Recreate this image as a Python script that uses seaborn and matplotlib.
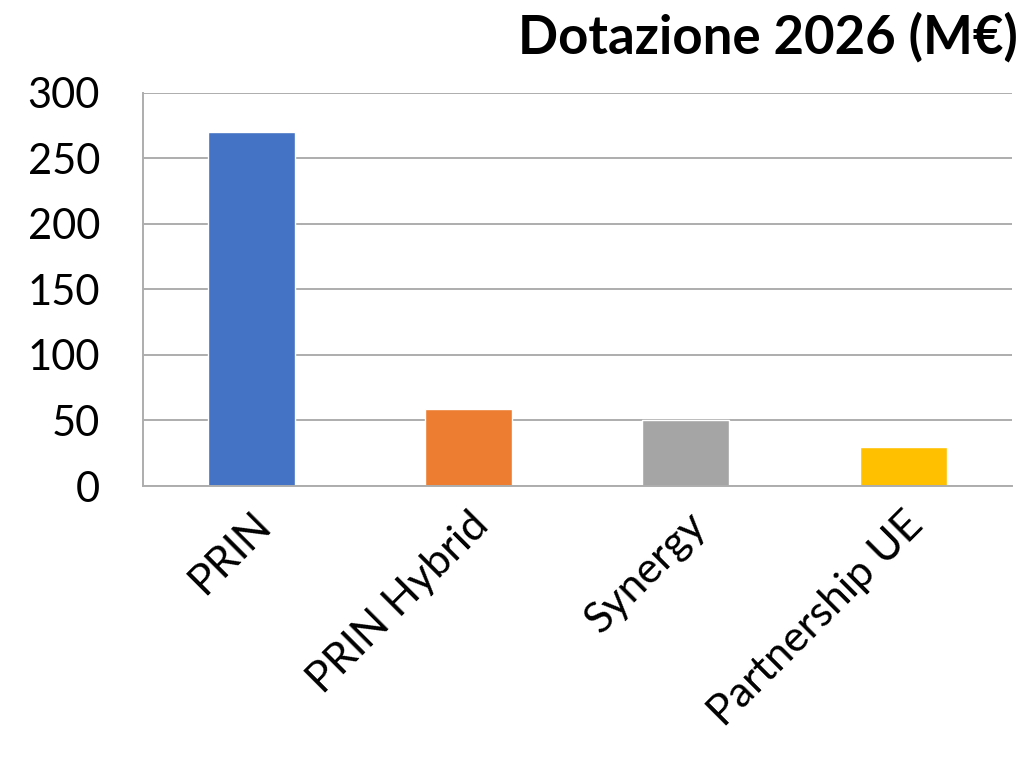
import numpy as np
import pandas as pd
import matplotlib
matplotlib.use("Agg")
import matplotlib.pyplot as plt
import seaborn as sns

# data
categories = ["PRIN", "PRIN Hybrid", "Synergy", "Partnership UE"]
values = [270, 59, 50, 30]
colors = ["#4472C4", "#ED7D31", "#A5A5A5", "#FFC000"]
y_ticks = [0, 50, 100, 150, 200, 250, 300]

sns.set_style("white")
plt.rcParams["font.family"] = ["Lato", "DejaVu Sans"]
plt.rcParams["text.color"] = "black"

df = pd.DataFrame({"categoria": categories, "valore": values})

fig = plt.figure(figsize=(10.24, 7.58), dpi=100)
ax = fig.add_axes([0.1396, 0.3588, 0.988 - 0.1396, 0.8777 - 0.3588])

sns.barplot(data=df, x="categoria", y="valore", hue="categoria",
            palette=colors, width=0.4, saturation=1, legend=False, ax=ax)

grid_c = "#ADADAD"
ax.set_ylim(0, 300)
ax.set_xlim(-0.5, len(categories) - 0.5)
ax.set_yticks(y_ticks)
ax.yaxis.grid(True, color=grid_c, linewidth=1.4)
ax.set_axisbelow(True)
ax.set_xlabel("")
ax.set_ylabel("")

for s in ["top", "right"]:
    ax.spines[s].set_visible(False)
for s in ["left", "bottom"]:
    ax.spines[s].set_color(grid_c)
    ax.spines[s].set_linewidth(1.4)

ax.tick_params(axis="y", length=11, width=1.4, color=grid_c,
               labelsize=30, pad=20, labelcolor="black")
ax.set_xticks(range(len(categories)))
ax.set_xticklabels(categories, rotation=45, ha="right",
                   rotation_mode="anchor", fontsize=31, color="black")
ax.tick_params(axis="x", which="major", length=0, pad=14)
ax.set_xticks(np.arange(-0.5, len(categories)), minor=True)
ax.tick_params(axis="x", which="minor", length=11.5, width=1.4,
               color=grid_c)

# title kept whole so it is not clipped at the right edge
fig.text(1018 / 1024, 1 - 37 / 758, "Dotazione 2026 (M€)", ha="right",
         va="center", fontsize=38, fontweight="bold", color="black")

fig.savefig("out.png", dpi=100)
